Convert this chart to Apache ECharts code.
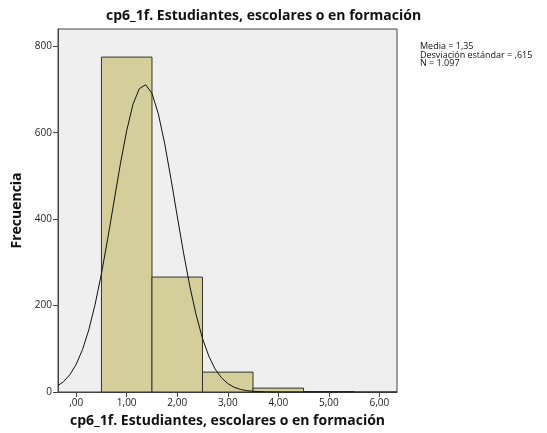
<!DOCTYPE html>
<html>
<head>
<meta charset="utf-8">
<script src="https://cdn.jsdelivr.net/npm/echarts@6/dist/echarts.min.js"></script>
<style>
  html, body { margin: 0; padding: 0; background: #fff; }
  #chart { width: 547px; height: 433px; }
</style>
</head>
<body>
<div id="chart"></div>
<script>
var dom = document.getElementById("chart");
var myChart = echarts.init(dom);

// histogram bins: [from, to, frequency]
var binStart = [0.5, 1.5, 2.5, 3.5, 4.5];
var binEnd   = [1.5, 2.5, 3.5, 4.5, 5.5];
var freq     = [775, 266, 46, 9, 1];

// normal curve
var curveX = [-0.36, -0.25, -0.125, 0, 0.125, 0.25, 0.375, 0.5, 0.625, 0.75, 0.875, 1.0, 1.125, 1.25, 1.375,
              1.5, 1.625, 1.75, 1.875, 2.0, 2.125, 2.25, 2.375, 2.5, 2.625, 2.75, 2.875, 3.0, 3.125, 3.25, 3.375,
              3.5, 3.75, 4.0, 4.5, 5.0, 6.35];
var curveY = [15, 24, 40, 64, 98, 144, 203, 274, 355, 442, 528, 605, 666, 702, 711,
              691, 644, 576, 494, 407, 322, 244, 178, 124, 83, 53, 33, 19.5, 11, 6, 3.2,
              1.6, 0.4, 0.1, 0, 0, 0];

var yTicks = [0, 200, 400, 600, 800];
var xTicks = [0, 1, 2, 3, 4, 5, 6];
var stats = ['Media = 1,35', 'Desviación estándar = ,615', 'N = 1.097'];

var font = '"Open Sans", "DejaVu Sans", sans-serif';

var bins = binStart.map(function (s, i) { return [s, binEnd[i], freq[i]]; });
var curve = curveX.map(function (x, i) { return [x, curveY[i]]; });

var option = {
    backgroundColor: '#ffffff',
    animation: false,
    grid: {
        left: 58, right: 150, top: 29, bottom: 41,
        show: true,
        backgroundColor: '#efefef',
        borderColor: '#444',
        borderWidth: 1
    },
    graphic: [
        {
            type: 'text', left: 266 - 160, top: 9,
            style: {
                text: 'cp6_1f. Estudiantes, escolares o en formación',
                font: 'bold 14px ' + font, fill: '#111',
                width: 320, align: 'center'
            }
        },
        {
            type: 'text', left: 420, top: 42,
            style: {
                text: stats.join('\n'),
                font: '9px ' + font, fill: '#111', lineHeight: 8.5
            }
        }
    ],
    xAxis: {
        type: 'value',
        min: -0.36, max: 6.35,
        name: 'cp6_1f. Estudiantes, escolares o en formación',
        nameLocation: 'middle',
        nameGap: 22,
        nameTextStyle: { fontFamily: font, fontWeight: 'bold', fontSize: 14, color: '#111' },
        axisLine: { show: true, onZero: false, lineStyle: { color: '#444' } },
        axisTick: { show: true, length: 5, customValues: xTicks, lineStyle: { color: '#444' } },
        axisLabel: {
            customValues: xTicks,
            fontFamily: font, fontSize: 10, color: '#222', margin: 6,
            formatter: function (v) { return v === 0 ? ',00' : v.toFixed(2).replace('.', ','); }
        },
        splitLine: { show: false }
    },
    yAxis: {
        type: 'value',
        min: 0, max: 840,
        name: 'Frecuencia',
        nameLocation: 'middle',
        nameGap: 31,
        nameTextStyle: { fontFamily: font, fontWeight: 'bold', fontSize: 14, color: '#111' },
        axisLine: { show: true, onZero: false, lineStyle: { color: '#444' } },
        axisTick: { show: true, length: 5, customValues: yTicks, lineStyle: { color: '#444' } },
        axisLabel: { customValues: yTicks, fontFamily: font, fontSize: 10, color: '#222', margin: 6 },
        splitLine: { show: false }
    },
    series: [
        {
            type: 'custom',
            data: bins,
            renderItem: function (params, api) {
                var p0 = api.coord([api.value(0), api.value(2)]);
                var p1 = api.coord([api.value(1), 0]);
                return {
                    type: 'rect',
                    shape: { x: p0[0], y: p0[1], width: p1[0] - p0[0], height: p1[1] - p0[1] },
                    style: { fill: '#d4cf9a', stroke: '#333', lineWidth: 1 }
                };
            },
            encode: { x: [0, 1], y: 2 }
        },
        {
            type: 'line',
            data: curve,
            smooth: false,
            showSymbol: false,
            lineStyle: { color: '#111', width: 1 },
            z: 5
        }
    ]
};

myChart.setOption(option, true);
</script>
</body>
</html>
